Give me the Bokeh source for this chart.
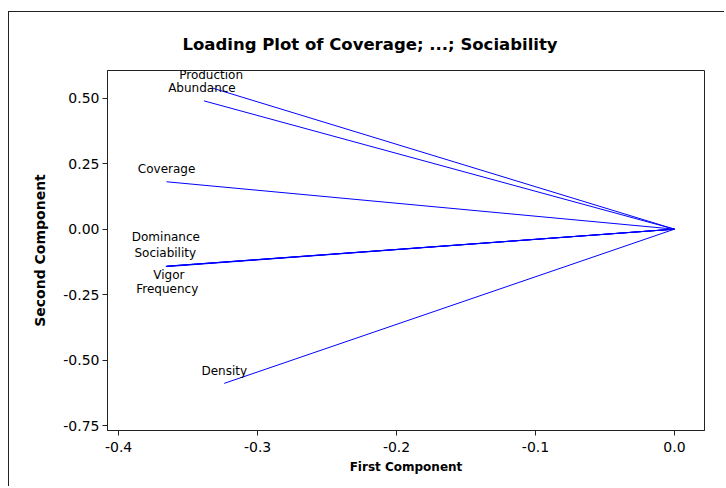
from bokeh.plotting import figure
from bokeh.models import FixedTicker, PrintfTickFormatter, ColumnDataSource, Range1d
from bokeh.core.properties import value
from bokeh.embed import file_html
from bokeh.resources import INLINE

# ---- data ----
variables = ["Coverage", "Abundance", "Dominance", "Frequency",
             "Density", "Vigor", "Production", "Sociability"]
first_component = [-0.3655, -0.3386, -0.366, -0.365, -0.324, -0.366, -0.332, -0.365]
second_component = [0.181, 0.490, -0.142, -0.143, -0.589, -0.142, 0.538, -0.141]
x_ticks = [-0.4, -0.3, -0.2, -0.1, 0.0]
y_ticks = [-0.75, -0.50, -0.25, 0.0, 0.25, 0.50]

# label placement (pixel offsets from each loading end point)
label_dx = [0, -2, 0, 0, 0, 3, -2, -2]
label_dy = [-13, -13, -29, 22, -12, 9, -13, -13]

FONT = "DejaVu Sans"

src = ColumnDataSource(dict(
    x0=[0.0] * len(variables), y0=[0.0] * len(variables),
    x1=first_component, y1=second_component,
    name=variables, dx=label_dx, dy=label_dy,
))

p = figure(width=716, height=475, output_backend="svg", toolbar_location=None,
           x_range=Range1d(-0.408, 0.0216), y_range=Range1d(-0.769, 0.606),
           title="Loading Plot of Coverage; ...; Sociability")
p.styles = {"border-left": "1px solid #222", "border-top": "1px solid #222",
            "margin-top": "11px", "margin-left": "8px"}
p.min_border_left = 98
p.min_border_right = 21
p.min_border_top = 58
p.min_border_bottom = 57

p.title.align = "left"
p.title.offset = 75
p.title.text_font = FONT
p.title.text_font_style = "bold"
p.title.text_font_size = "16.5px"
p.title.text_color = "black"
p.title.standoff = 34

p.xgrid.visible = False
p.ygrid.visible = False
p.outline_line_color = "#222222"
p.outline_line_width = 1
p.background_fill_color = "white"
p.border_fill_color = "white"

for ax in (p.xaxis[0], p.yaxis[0]):
    ax.axis_line_color = "#222222"
    ax.major_tick_line_color = "#222222"
    ax.major_tick_out = 5
    ax.major_tick_in = 0
    ax.minor_tick_line_color = None
    ax.major_label_text_font = FONT
    ax.major_label_text_font_size = "14px"
    ax.major_label_text_color = "black"
    ax.axis_label_text_font = FONT
    ax.axis_label_text_font_style = "bold"
    ax.axis_label_text_color = "black"

p.xaxis.major_label_standoff = 6
p.yaxis.major_label_standoff = 3
p.xaxis.ticker = FixedTicker(ticks=x_ticks)
p.yaxis.ticker = FixedTicker(ticks=y_ticks)
p.xaxis.formatter = PrintfTickFormatter(format="%.1f")
p.yaxis.formatter = PrintfTickFormatter(format="%.2f")
p.xaxis.axis_label = "First Component"
p.yaxis.axis_label = "Second Component"
p.xaxis.axis_label_text_font_size = "12px"
p.yaxis.axis_label_text_font_size = "14px"
p.xaxis.axis_label_standoff = 5
p.yaxis.axis_label_standoff = 12

p.segment(x0="x0", y0="y0", x1="x1", y1="y1", source=src,
          line_color="#0000ff", line_width=1)
p.text(x="x1", y="y1", text="name", source=src, x_offset="dx", y_offset="dy",
       text_align="center", text_baseline="middle",
       text_font=value(FONT), text_font_size="12px", text_color="black")

open("out.html", "w").write(file_html(p, INLINE))
